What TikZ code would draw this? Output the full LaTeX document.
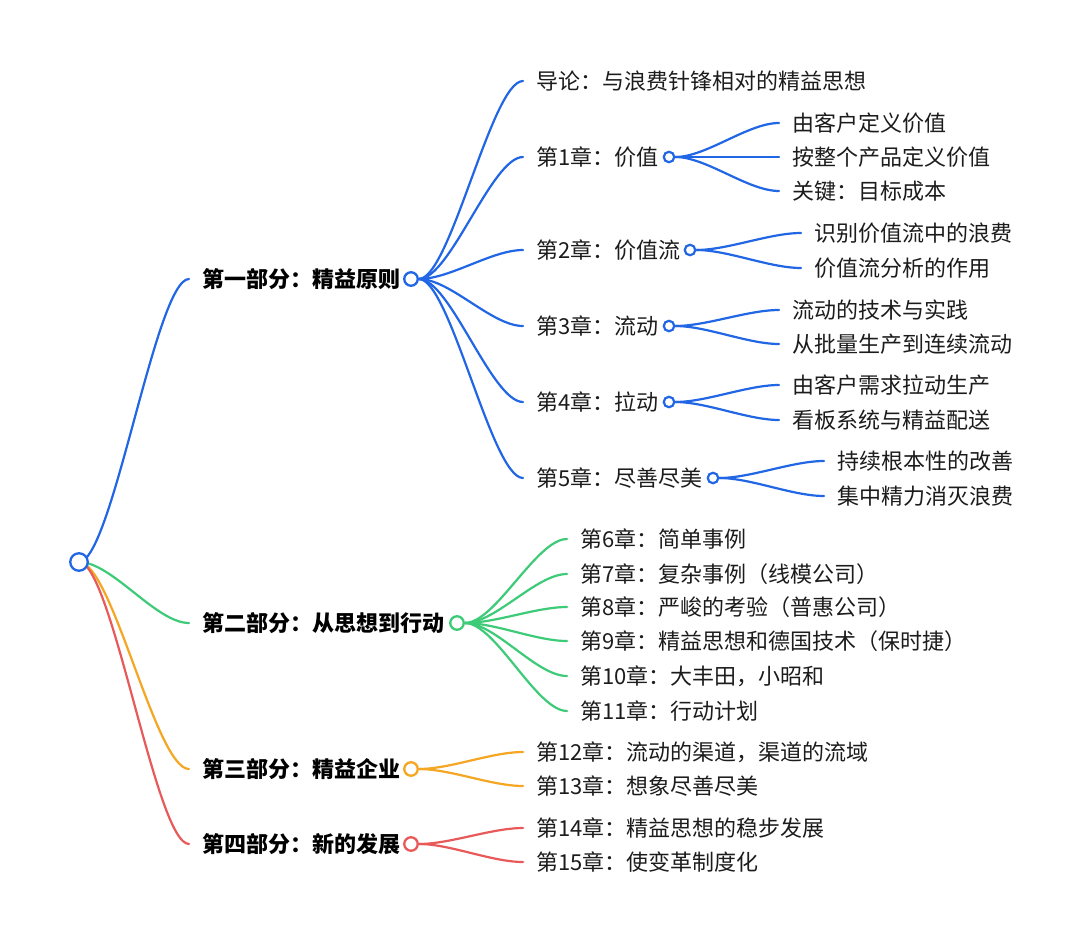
\documentclass[tikz,border=0pt]{standalone}
\usepackage{fontspec}
\setmainfont{Noto Sans CJK SC}
\usetikzlibrary{calc,backgrounds}
\definecolor{cblue}{HTML}{2166E5}
\definecolor{cgreen}{HTML}{3DCB78}
\definecolor{corange}{HTML}{F5A623}
\definecolor{cred}{HTML}{E85A5A}
\definecolor{ctxt}{HTML}{1C1C1C}
\tikzset{
  lbl/.style={anchor=west, xshift=-13pt, inner sep=0pt, text height=19pt, text depth=2.6pt,
    execute at begin node={\hspace*{13pt}}, font=\fontsize{22}{26}\selectfont, text=ctxt},
  plbl/.style={lbl, font=\fontsize{22}{26}\selectfont\bfseries, text=black},
  dot0/.style={circle, fill=white, line width=2.3pt, inner sep=0pt, minimum size=17.5pt},
  dot1/.style={circle, fill=white, line width=2.3pt, inner sep=0pt, minimum size=13.5pt},
  dot2/.style={circle, fill=white, line width=2.2pt, inner sep=0pt, minimum size=10.5pt},
  link/.style={line width=2.2pt, line cap=round},
  mmcurve/.style={to path={let \p1=(\tikztostart), \p2=(\tikztotarget) in
    .. controls ({\x1+0.3*(\x2-\x1)},\y1) and ({\x1+0.7*(\x2-\x1)},\y2) .. (\tikztotarget)}}
}
\begin{document}
\begin{tikzpicture}[x=1pt,y=-1pt]
\useasboundingbox (0,0) rectangle (1080,942);

% root
\node[dot0, draw=cblue] (root) at (79,562) {};

% parts
\node[plbl] (p1) at (202,279) {第一部分：精益原则};
\node[dot1, draw=cblue] (p1c) at (411,279) {};
\node[plbl] (p2) at (202,623) {第二部分：从思想到行动};
\node[dot1, draw=cgreen] (p2c) at (457,623) {};
\node[plbl] (p3) at (202,769) {第三部分：精益企业};
\node[dot1, draw=corange] (p3c) at (411,769) {};
\node[plbl] (p4) at (202,844) {第四部分：新的发展};
\node[dot1, draw=cred] (p4c) at (411,844) {};

% part 1 chapters
\node[lbl] (c0) at (536,81) {导论：与浪费针锋相对的精益思想};
\node[lbl] (c1) at (536,157) {第1章：价值};
\node[dot2, draw=cblue] (c1c) at (669,157) {};
\node[lbl] (c2) at (536,250) {第2章：价值流};
\node[dot2, draw=cblue] (c2c) at (690,250) {};
\node[lbl] (c3) at (536,326) {第3章：流动};
\node[dot2, draw=cblue] (c3c) at (669,326) {};
\node[lbl] (c4) at (536,402) {第4章：拉动};
\node[dot2, draw=cblue] (c4c) at (669,402) {};
\node[lbl] (c5) at (536,478) {第5章：尽善尽美};
\node[dot2, draw=cblue] (c5c) at (713,478) {};

% sub topics
\node[lbl] (s11) at (792,123) {由客户定义价值};
\node[lbl] (s12) at (792,157) {按整个产品定义价值};
\node[lbl] (s13) at (792,191) {关键：目标成本};
\node[lbl] (s21) at (814,233) {识别价值流中的浪费};
\node[lbl] (s22) at (814,268) {价值流分析的作用};
\node[lbl] (s31) at (792,310) {流动的技术与实践};
\node[lbl] (s32) at (792,344) {从批量生产到连续流动};
\node[lbl] (s41) at (792,385) {由客户需求拉动生产};
\node[lbl] (s42) at (792,420) {看板系统与精益配送};
\node[lbl] (s51) at (837,461) {持续根本性的改善};
\node[lbl] (s52) at (837,496) {集中精力消灭浪费};

% part 2 chapters
\node[lbl] (g6) at (580,539) {第6章：简单事例};
\node[lbl] (g7) at (580,574) {第7章：复杂事例（线模公司）};
\node[lbl] (g8) at (580,607) {第8章：严峻的考验（普惠公司）};
\node[lbl] (g9) at (580,641) {第9章：精益思想和德国技术（保时捷）};
\node[lbl] (g10) at (580,676) {第10章：大丰田，小昭和};
\node[lbl] (g11) at (580,711) {第11章：行动计划};

% part 3 chapters
\node[lbl] (o12) at (536,752) {第12章：流动的渠道，渠道的流域};
\node[lbl] (o13) at (536,786) {第13章：想象尽善尽美};

% part 4 chapters
\node[lbl] (r14) at (536,828) {第14章：精益思想的稳步发展};
\node[lbl] (r15) at (536,862) {第15章：使变革制度化};

\begin{scope}[on background layer]
  \fill[white] (0,0) rectangle (1080,942);
  \draw[link, cblue] (root.center) to[mmcurve] (p1.west);
  \draw[link, cgreen] (root.center) to[mmcurve] (p2.west);
  \draw[link, corange] (root.center) to[mmcurve] (p3.west);
  \draw[link, cred] (root.center) to[mmcurve] (p4.west);

  \foreach \t in {c0,c1,c2,c3,c4,c5}
    \draw[link, cblue] (p1c.east) to[mmcurve] (\t.west);
  \foreach \t in {s11,s12,s13}
    \draw[link, cblue] (c1c.east) to[mmcurve] (\t.west);
  \foreach \t in {s21,s22}
    \draw[link, cblue] (c2c.east) to[mmcurve] (\t.west);
  \foreach \t in {s31,s32}
    \draw[link, cblue] (c3c.east) to[mmcurve] (\t.west);
  \foreach \t in {s41,s42}
    \draw[link, cblue] (c4c.east) to[mmcurve] (\t.west);
  \foreach \t in {s51,s52}
    \draw[link, cblue] (c5c.east) to[mmcurve] (\t.west);

  \foreach \t in {g6,g7,g8,g9,g10,g11}
    \draw[link, cgreen] (p2c.east) to[mmcurve] (\t.west);
  \foreach \t in {o12,o13}
    \draw[link, corange] (p3c.east) to[mmcurve] (\t.west);
  \foreach \t in {r14,r15}
    \draw[link, cred] (p4c.east) to[mmcurve] (\t.west);
\end{scope}
\end{tikzpicture}
\end{document}
